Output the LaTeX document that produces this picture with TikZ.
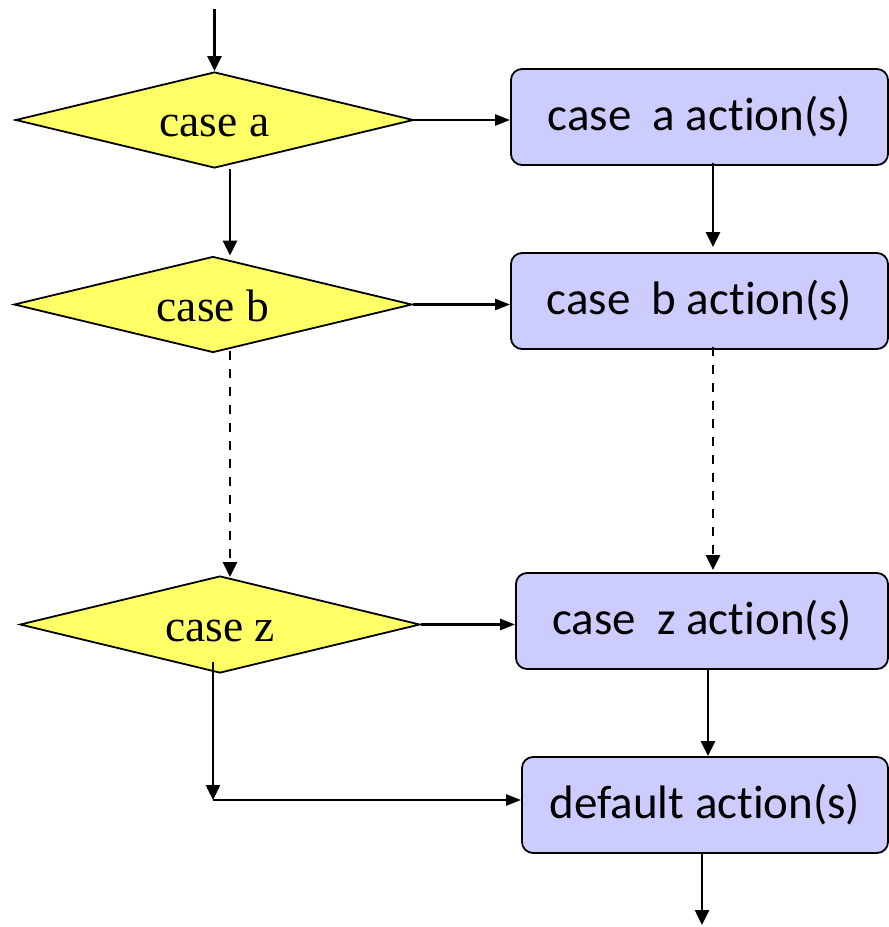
\documentclass[tikz,border=0pt]{standalone}
\usepackage{fontspec}
\setmainfont{Liberation Serif}
\newfontfamily\boxfont[Ligatures=NoCommon]{Carlito}
\usetikzlibrary{shapes.geometric,arrows.meta}

\definecolor{decfill}{HTML}{FFFF66}
\definecolor{actfill}{HTML}{CCCCFF}

\tikzset{
  decision/.style={diamond, draw=black, line width=1.8pt, fill=decfill,
    minimum width=398pt, minimum height=96pt, inner sep=0pt, aspect=4.1,
    text height=33pt, text depth=0pt,
    font=\fontsize{45.5}{50}\selectfont},
  action/.style={rectangle, rounded corners=11pt, draw=black, line width=1.8pt,
    fill=actfill, minimum height=96pt, inner sep=0pt,
    font=\boxfont\fontsize{47}{52}\selectfont},
  flow/.style={line width=2.5pt, -{Triangle[length=15pt,width=14pt]}},
  flowh/.style={line width=2.5pt, -{Triangle[length=15pt,width=11pt]}},
  flowdash/.style={flow, dash pattern=on 9pt off 9pt},
}

\begin{document}
\begin{tikzpicture}[x=1pt,y=-1pt]
  \useasboundingbox (0,0) rectangle (889,927);

  % decisions
  \node[decision] (da) at (214.5,120)  {case a};
  \node[decision] (db) at (213,304.5)  {case b};
  \node[decision, minimum width=400pt, minimum height=97pt] (dz) at (220,624.5) {case z};

  % actions
  \node[action, minimum width=377pt] (ba) at (699.5,117) {case\ \ a action(s)};
  \node[action, minimum width=377pt] (bb) at (699.5,301) {case\ \ b action(s)};
  \node[action, minimum width=372pt] (bz) at (702,621)   {case\ \ z action(s)};
  \node[action, minimum width=366pt] (bd) at (705,805)   {default action(s)};

  % free ends
  \coordinate (entry) at (214.5,9);
  \coordinate (exit)  at (702,925);
  \coordinate (zs)    at (213,662);
  \coordinate (zc)    at (213,800);

  % left column
  \draw[flow] (entry) -- (da.north);
  \draw[flow] ([xshift=15.5pt]da.south) -- ([xshift=17pt]db.north);
  \draw[flowdash] ([xshift=17pt,yshift=2pt]db.south) -- ([xshift=10pt,yshift=-2pt]dz.north);
  \draw[flow] (zs) -- (zc);
  \draw[flowh] (zc) -- (zc -| bd.west);

  % branches to actions
  \draw[flowh] (da.east) -- (da.east -| ba.west);
  \draw[flowh] (db.east) -- (db.east -| bb.west);
  \draw[flowh] (dz.east) -- (dz.east -| bz.west);

  % right column
  \draw[flow] ([xshift=13.5pt,yshift=3pt]ba.south) -- ([xshift=13.5pt,yshift=5pt]bb.north);
  \draw[flowdash] ([xshift=13.5pt,yshift=3pt]bb.south) -- ([xshift=11pt,yshift=2pt]bz.north);
  \draw[flow] ([xshift=6pt]bz.south) -- ([xshift=3pt]bd.north);
  \draw[flow] ([xshift=-3pt]bd.south) -- (exit);
\end{tikzpicture}
\end{document}
